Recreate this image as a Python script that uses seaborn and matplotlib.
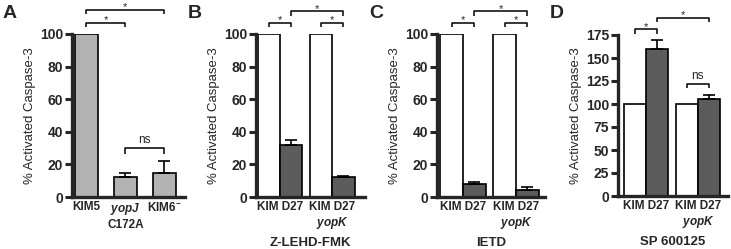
import matplotlib
matplotlib.use("Agg")
import matplotlib.pyplot as plt
import seaborn as sns
import pandas as pd

# ---------------- data ----------------
a_strains = ["KIM5", "$\\mathit{yopJ}$\nC172A", "KIM6$^{-}$"]
a_values = [100, 12, 15]
a_errors = [0, 3, 7]

groups = ["KIM D27", "KIM D27\n$\\mathit{yopK}$"]
treatments = ["control", "inhibitor"]

b_values = [100, 32, 100, 12]      # order: g0 ctrl, g0 inh, g1 ctrl, g1 inh
b_errors = [0, 3, 0, 1]
c_values = [100, 8, 100, 4.5]
c_errors = [0, 1.5, 0, 1.8]
d_values = [100, 160, 100, 105]
d_errors = [0, 10, 0, 5]

panel_titles = ["A", "B", "C", "D"]
inhibitors = ["", "Z-LEHD-FMK", "IETD", "SP 600125"]
ylabel = "% Activated Caspase-3"

# ---------------- style ----------------
sns.set_style("ticks")
plt.rcParams["font.family"] = ["Liberation Sans", "DejaVu Sans"]
plt.rcParams["mathtext.fontset"] = "custom"
plt.rcParams["mathtext.rm"] = "Liberation Sans:bold"
plt.rcParams["mathtext.it"] = "Liberation Sans:bold:italic"
plt.rcParams["mathtext.bf"] = "Liberation Sans:bold"

W, H = 731, 249
fig = plt.figure(figsize=(W / 100, H / 100), dpi=100)


def axes_px(l, r, top, bottom):
    return fig.add_axes([l / W, (H - bottom) / H, (r - l) / W, (bottom - top) / H])


def style_axes(ax, yticks, ymax):
    ax.set_ylim(0, ymax)
    ax.set_yticks(yticks)
    for s in ["top", "right"]:
        ax.spines[s].set_visible(False)
    ax.spines["left"].set_linewidth(2.4)
    ax.spines["bottom"].set_linewidth(2.4)
    ax.tick_params(axis="y", length=5, width=2.2, pad=1.5, labelsize=10)
    ax.tick_params(axis="x", length=0, pad=3, labelsize=8.5)
    for t in ax.get_yticklabels():
        t.set_fontweight("bold")
    for t in ax.get_xticklabels():
        t.set_fontweight("bold")
    ax.set_ylabel(ylabel, fontsize=9.5, labelpad=3)


def add_errors(ax, errors):
    bars = sorted(ax.patches, key=lambda p: p.get_x())
    for p, e in zip(bars, errors):
        if e > 0:
            xc = p.get_x() + p.get_width() / 2
            ax.errorbar([xc], [p.get_height()], yerr=[[0], [e]], fmt="none",
                        ecolor="black", elinewidth=1.2, capsize=4, capthick=1.2,
                        zorder=1)
    return [p.get_x() + p.get_width() / 2 for p in bars]


def bracket(ax, x1, x2, y, h, text, ns=False):
    ax.plot([x1, x1, x2, x2], [y - h, y, y, y - h], color="black", lw=1.1,
            clip_on=False, solid_capstyle="butt")
    if ns:
        ax.text((x1 + x2) / 2, y + h * 0.4, text, ha="center", va="bottom",
                fontsize=8.5, clip_on=False)
    else:
        ax.text((x1 + x2) / 2, y + h * 0.45, text, ha="center", va="center",
                fontsize=8, clip_on=False)


# ---------------- panel A ----------------
axA = axes_px(72, 185, 34, 197)
dfA = pd.DataFrame({"strain": a_strains, "value": a_values})
sns.barplot(data=dfA, x="strain", y="value", color="#b3b3b3", saturation=1,
            edgecolor="black", linewidth=1.2, width=0.58, errorbar=None, ax=axA)
cA = add_errors(axA, a_errors)
axA.set_xlim(-0.37, 2.53)
style_axes(axA, range(0, 101, 20), 100)
axA.set_xlabel("")
bracket(axA, cA[0], cA[1], 107, 3, "*")
bracket(axA, cA[0], cA[2], 115, 3, "*")
bracket(axA, cA[1], cA[2], 30, 3.5, "ns", ns=True)


# ---------------- panels B, C, D ----------------
def grouped(ax, values, errors, ymax, yticks, xlim):
    df = pd.DataFrame({
        "group": [g for g in groups for _ in treatments],
        "treat": [t for _ in groups for t in treatments],
        "value": values,
    })
    sns.barplot(data=df, x="group", y="value", hue="treat", order=groups,
                hue_order=treatments,
                palette={"control": "white", "inhibitor": "#5c5c5c"},
                saturation=1, edgecolor="black", linewidth=1.2, width=0.86,
                errorbar=None, legend=False, ax=ax)
    c = add_errors(ax, errors)
    ax.set_xlim(*xlim)
    style_axes(ax, yticks, ymax)
    return c


axB = axes_px(256, 365, 34, 197)
cB = grouped(axB, b_values, b_errors, 100, range(0, 101, 20), (-0.46, 1.63))
bracket(axB, cB[0], cB[1], 107, 3, "*")
bracket(axB, cB[2], cB[3], 107, 3, "*")
bracket(axB, cB[1], cB[3], 114, 3, "*")

axC = axes_px(437, 545, 34, 197)
cC = grouped(axC, c_values, c_errors, 100, range(0, 101, 20), (-0.49, 1.55))
bracket(axC, cC[0], cC[1], 107, 3, "*")
bracket(axC, cC[2], cC[3], 107, 3, "*")
bracket(axC, cC[1], cC[3], 114, 3, "*")

axD = axes_px(618, 728, 35, 196)
cD = grouped(axD, d_values, d_errors, 175, range(0, 176, 25), (-0.54, 1.58))
bracket(axD, cD[0], cD[1], 181, 5, "*")
bracket(axD, cD[1], cD[3], 194, 5, "*")
bracket(axD, cD[2], cD[3], 122, 5, "ns", ns=True)

for ax, lab in zip([axB, axC, axD], inhibitors[1:]):
    ax.set_xticks([0, 1])
    ax.set_xticklabels(groups, fontweight="bold", fontsize=8.5)
    ax.set_xlabel(lab, fontsize=9.5, fontweight="bold", labelpad=4)

# panel letters
for x, t in zip([3, 188, 369, 550], panel_titles):
    fig.text(x / W, 1 - 13 / H, t, fontsize=14, fontweight="bold",
             ha="left", va="center")

fig.savefig("out.png", dpi=100)
